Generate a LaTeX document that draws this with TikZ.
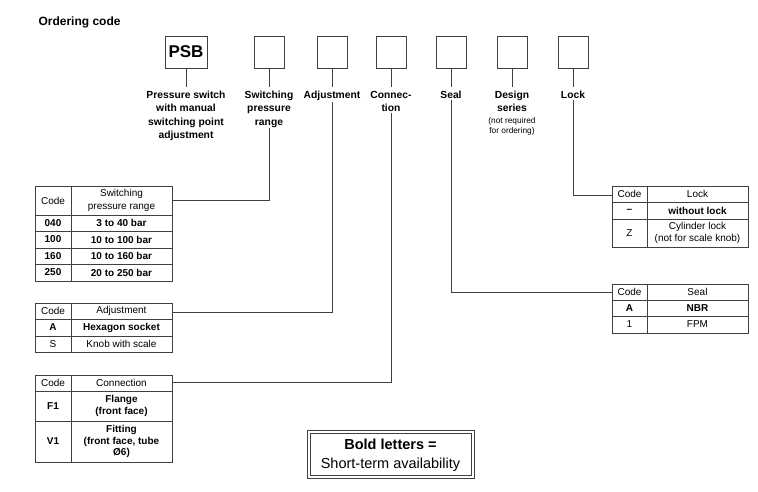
\documentclass[tikz,border=0pt]{standalone}
\usepackage{fontspec}
\setmainfont{Liberation Sans}
\begin{document}
\begin{tikzpicture}[x=1pt,y=-1pt,
  ln/.style={draw=black!75,line width=0.8pt},
  cb/.style={draw=black!75,line width=0.8pt,minimum width=30pt,minimum height=32pt,inner sep=0pt},
  lab/.style={font=\bfseries\fontsize{10.3}{13.2}\selectfont,align=center,anchor=north,inner sep=1pt},
  tt/.style={font=\fontsize{10}{11.5}\selectfont,align=center},
  tb/.style={font=\bfseries\fontsize{10}{11.5}\selectfont,align=center}]
\useasboundingbox (0,0) rectangle (758,492);
\node[font=\bfseries\fontsize{12}{14}\selectfont,anchor=west] (title) at (35,22) {Ordering code};
% code boxes
\node[cb,minimum width=42pt,font=\bfseries\fontsize{17}{18}\selectfont] (b1) at (186,52) {PSB};
\node[cb] (b2) at (269,52) {};
\node[cb] (b3) at (332,52) {};
\node[cb] (b4) at (391,52) {};
\node[cb] (b5) at (451,52) {};
\node[cb] (b6) at (512,52) {};
\node[cb] (b7) at (573,52) {};
% labels
\node[lab] (l1) at (186,90) {Pressure switch\\with manual\\switching point\\adjustment};
\node[lab] (l2) at (269,90) {Switching\\pressure\\range};
\node[lab] (l3) at (332,90) {Adjustment};
\node[lab] (l4) at (391,90) {Connec-\\tion};
\node[lab] (l5) at (451,90) {Seal};
\node[lab] (l6) at (512,90) {Design\\series\\[-2pt]{\normalfont\fontsize{8.3}{9.5}\selectfont(not required}\\[-3pt]{\normalfont\fontsize{8.3}{9.5}\selectfont for ordering)}};
\node[lab] (l7) at (573,90) {Lock};
\foreach \i in {1,...,7}{\draw[ln] (b\i.south) -- ++(0,19);}
% table 1
\begin{scope}[ln]
\draw (35,186) rectangle (172,281);
\draw (71,186) -- (71,281);
\foreach \y in {215,231,248,264} \draw (35,\y) -- (172,\y);
\end{scope}
\node[tt] (t1h) at (53,200.5) {Code};
\node[tt,font=\fontsize{10}{13}\selectfont] (t1h2) at (121.5,200.5) {Switching\\pressure range};
\foreach \y/\a/\b in {223/040/3 to 40 bar,239.5/100/10 to 100 bar,256/160/10 to 160 bar,272.5/250/20 to 250 bar}{
  \node[tb] at (53,\y) {\a}; \node[tb] at (121.5,\y) {\b};}
\coordinate (t1) at (172,200);
% table 2
\begin{scope}[ln]
\draw (35,303) rectangle (172,352);
\draw (71,303) -- (71,352);
\foreach \y in {319,336} \draw (35,\y) -- (172,\y);
\end{scope}
\node[tt] at (53,311) {Code}; \node[tt] at (121.5,311) {Adjustment};
\node[tb] at (53,327.5) {A}; \node[tb] at (121.5,327.5) {Hexagon socket};
\node[tt] at (53,344) {S}; \node[tt] at (121.5,344) {Knob with scale};
\coordinate (t2) at (172,312);
% table 3
\begin{scope}[ln]
\draw (35,375) rectangle (172,462);
\draw (71,375) -- (71,462);
\foreach \y in {391,421} \draw (35,\y) -- (172,\y);
\end{scope}
\node[tt] at (53,383) {Code}; \node[tt] at (121.5,383) {Connection};
\node[tb] at (53,406) {F1}; \node[tb] at (121.5,406) {Flange\\(front face)};
\node[tb] at (53,441.5) {V1}; \node[tb] at (121.5,441.5) {Fitting\\(front face, tube\\Ø6)};
\coordinate (t3) at (172,382);
% lock table
\begin{scope}[ln]
\draw (612,186) rectangle (748,247);
\draw (647,186) -- (647,247);
\foreach \y in {202,219} \draw (612,\y) -- (748,\y);
\end{scope}
\node[tt] at (629.5,194) {Code}; \node[tt] at (697.5,194) {Lock};
\node[tb] at (629.5,210.5) {–}; \node[tb] at (697.5,210.5) {without lock};
\node[tt] at (629.5,233) {Z}; \node[tt] at (697.5,233) {Cylinder lock\\(not for scale knob)};
\coordinate (t4) at (612,195);
% seal table
\begin{scope}[ln]
\draw (612,284) rectangle (748,333);
\draw (647,284) -- (647,333);
\foreach \y in {300,316} \draw (612,\y) -- (748,\y);
\end{scope}
\node[tt] at (629.5,292) {Code}; \node[tt] at (697.5,292) {Seal};
\node[tb] at (629.5,308) {A}; \node[tb] at (697.5,308) {NBR};
\node[tt] at (629.5,324.5) {1}; \node[tt] at (697.5,324.5) {FPM};
\coordinate (t5) at (612,292);
% connectors
\draw[ln] (l2.south) -- (269,200) -- (t1);
\draw[ln] (l3.south) -- (332,312) -- (t2);
\draw[ln] (l4.south) -- (391,382) -- (t3);
\draw[ln] (l5.south) -- (451,292) -- (t5);
\draw[ln] (l7.south) -- (573,195) -- (t4);
% legend
\node[font=\bfseries\fontsize{14.5}{17}\selectfont] (leg1) at (390.5,444) {Bold letters =};
\node[font=\fontsize{14.5}{17}\selectfont] (leg2) at (390.5,465) {Short-term availability};
\draw[ln] (307,430) rectangle (474,478);
\draw[ln] (310,433) rectangle (471,475);
\end{tikzpicture}
\end{document}
